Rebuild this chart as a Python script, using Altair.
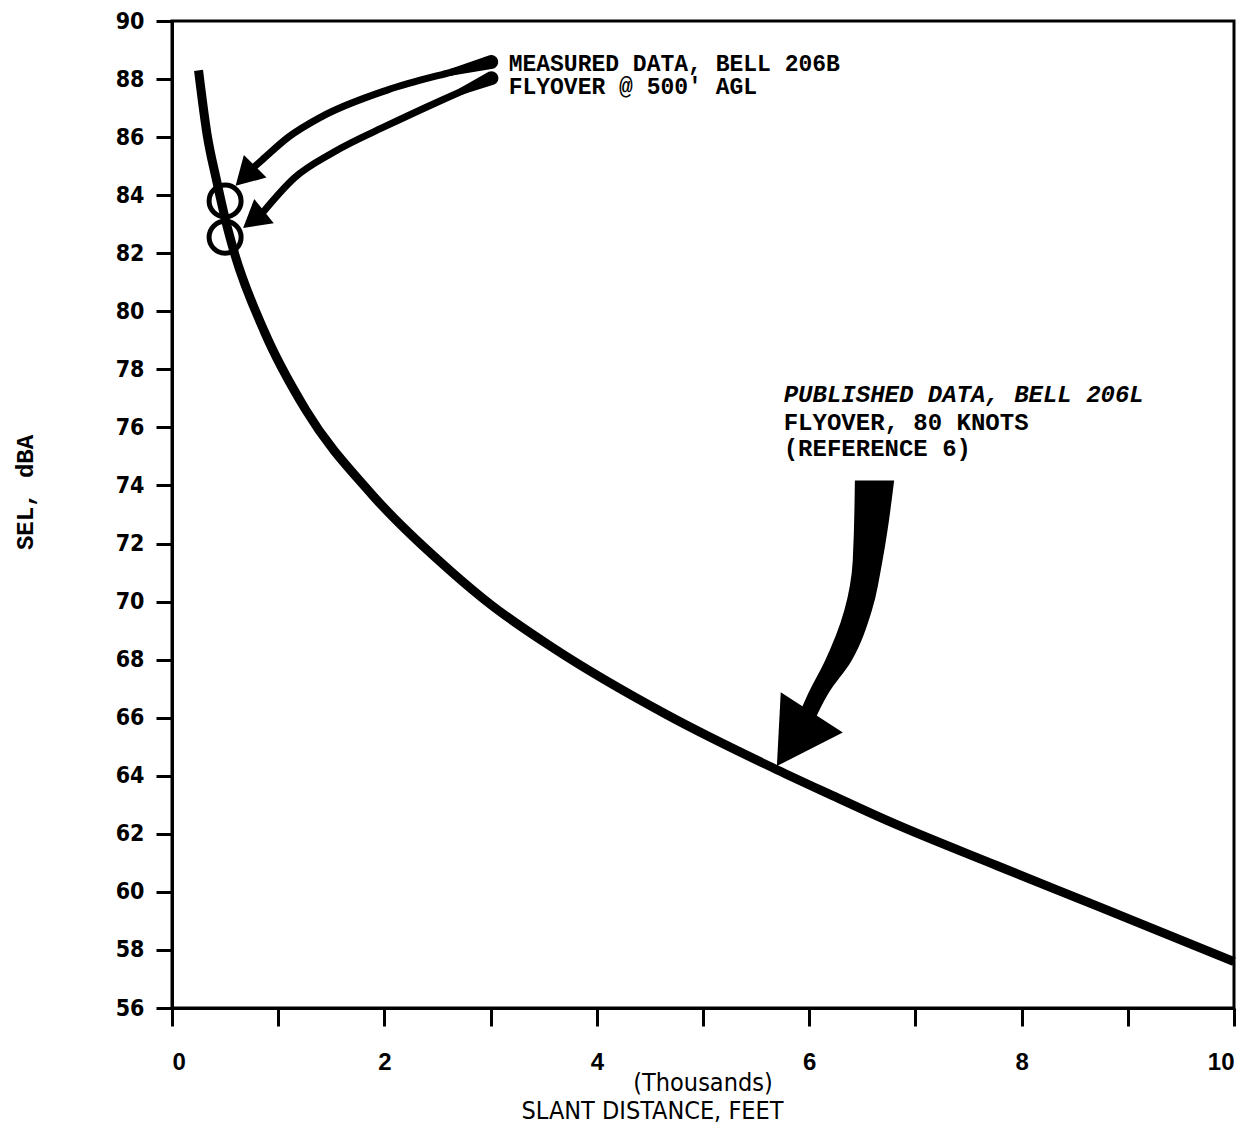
import altair as alt
import pandas as pd

# ---- data ----
curve_x = [0.25, 0.33, 0.42, 0.50, 0.58, 0.87, 1.26, 1.88, 2.64, 3.00, 3.59, 4.66, 5.70, 6.17, 6.77, 7.77, 8.72, 10.0]
curve_y = [88.3, 86.1, 84.5, 83.2, 82.1, 79.3, 76.6, 73.7, 71.0, 69.9, 68.4, 66.1, 64.2, 63.4, 62.4, 60.9, 59.5, 57.6]

measured_x = [0.5, 0.5]
measured_y = [83.8, 82.55]

x_ticks = list(range(0, 11))
y_ticks = list(range(56, 91, 2))

# annotation arrows 1 & 2 (thin curved shafts)
shaft_id = ["a1"] * 7 + ["a2"] * 6
shaft_x = [3.006, 2.632, 2.026, 1.402, 1.096, 0.847, 0.782,
           3.008, 2.544, 2.032, 1.521, 1.150, 0.865]
shaft_y = [88.59, 88.24, 87.62, 86.69, 86.00, 85.21, 85.00,
           88.03, 87.28, 86.41, 85.48, 84.59, 83.45]

# thick start ("blob") of arrows 1 & 2
blob_id = ["a1", "a1", "a2", "a2"]
blob_x = [3.006, 2.632, 3.008, 2.73]
blob_y = [88.59, 88.24, 88.03, 87.59]
blob_w = [14, 7, 14, 7]

# annotation arrow 3 (tapered shaft: left / right edges)
a3_y = [74.17, 71.41, 69.69, 67.97, 66.83, 65.9]
a3_left = [6.43, 6.41, 6.33, 6.15, 5.99, 5.88]
a3_right = [6.80, 6.69, 6.59, 6.40, 6.18, 6.05]

head_x = [0.691, 0.768, 5.86]
head_y = [84.66, 83.16, 65.26]
head_angle = [225, 231, 213]
head_size = [1024, 961, 5476]

meas_lines = ["MEASURED DATA, BELL 206B", "FLYOVER @ 500' AGL"]
meas_x = [3.17, 3.17]
meas_y = [88.28, 87.47]

pub_lines = ["PUBLISHED DATA, BELL 206L", "FLYOVER, 80 KNOTS", "(REFERENCE 6)"]
pub_x = [5.76, 5.76, 5.76]
pub_y = [76.86, 75.90, 75.0]

unit_text = ["(Thousands)"]
unit_x = [5.0]
unit_y = [53.41]

# ---- tables ----
curve_df = pd.DataFrame({"x": curve_x, "y": curve_y})
meas_df = pd.DataFrame({"x": measured_x, "y": measured_y})
shaft_df = pd.DataFrame({"id": shaft_id, "x": shaft_x, "y": shaft_y})
blob_df = pd.DataFrame({"id": blob_id, "x": blob_x, "y": blob_y, "w": blob_w,
                        "seq": list(range(len(blob_x)))})
a3_df = pd.DataFrame({"y": a3_y, "xl": a3_left, "xr": a3_right})
head_df = pd.DataFrame({"x": head_x, "y": head_y, "angle": head_angle, "size": head_size})
meas_txt = pd.DataFrame({"x": meas_x, "y": meas_y, "t": meas_lines})
pub_df = pd.DataFrame({"x": pub_x, "y": pub_y, "t": pub_lines, "i": [0, 1, 2]})
unit_df = pd.DataFrame({"x": unit_x, "y": unit_y, "t": unit_text})

xscale = alt.Scale(domain=[0, 10], nice=False, zero=False)
yscale = alt.Scale(domain=[56, 90], nice=False, zero=False)

X = alt.X("x:Q", scale=xscale, axis=alt.Axis(
    values=x_ticks, format="d",
    labelExpr="datum.value % 2 == 0 ? datum.label : ''",
    tickSize=18, labelPadding=24, labelFontSize=24, labelFont="Liberation Sans",
    labelFontWeight="bold",
    title="SLANT DISTANCE, FEET", titleFont="Liberation Sans Narrow, DejaVu Sans Condensed, Liberation Sans",
    titleFontSize=25, titleFontWeight="normal",
    titleX=480, titleY=102, titleAlign="center", titleBaseline="middle", titleAnchor="start",
))
Y = alt.Y("y:Q", scale=yscale, axis=alt.Axis(
    values=y_ticks, tickSize=16, labelPadding=12, labelFontSize=23,
    labelFont="Liberation Sans Narrow, DejaVu Sans Condensed, Liberation Sans", labelFontWeight="bold",
    title="SEL, dBA", titleFont="Liberation Mono", titleFontSize=24, titleFontWeight="bold",
    titleX=-147, titleY=471, titleAngle=270, titleAlign="center", titleBaseline="middle",
))

curve = alt.Chart(curve_df).mark_line(color="black", strokeWidth=9, interpolate="monotone").encode(
    x=X, y=Y)

circles = alt.Chart(meas_df).mark_point(shape="circle", filled=False, color="black",
                                        size=1024, strokeWidth=5, opacity=1).encode(
    x="x:Q", y="y:Q")

shafts = alt.Chart(shaft_df).mark_line(color="black", strokeWidth=7, interpolate="monotone",
                                       strokeCap="round").encode(
    x="x:Q", y="y:Q", detail="id:N")

blobs = alt.Chart(blob_df).mark_trail(color="black").encode(
    x="x:Q", y="y:Q", detail="id:N", order="seq:Q",
    size=alt.Size("w:Q", scale=None, legend=None))

shaft3 = alt.Chart(a3_df).mark_area(orient="horizontal", color="black", opacity=1,
                                    interpolate="monotone").encode(
    y="y:Q", x="xl:Q", x2="xr:Q")

heads = alt.Chart(head_df).mark_point(shape="triangle-up", filled=True, color="black", opacity=1).encode(
    x="x:Q", y="y:Q",
    angle=alt.Angle("angle:Q", scale=None),
    size=alt.Size("size:Q", scale=None, legend=None))

mtext = alt.Chart(meas_txt).mark_text(align="left", baseline="alphabetic", font="Liberation Mono",
                                      fontSize=23, fontWeight="bold", color="black").encode(
    x="x:Q", y="y:Q", text="t:N")

ptext_it = alt.Chart(pub_df[pub_df.i == 0]).mark_text(align="left", baseline="alphabetic",
                                                       font="Liberation Mono", fontSize=24,
                                                       fontWeight="bold", fontStyle="italic",
                                                       color="black").encode(
    x="x:Q", y="y:Q", text="t:N")
ptext = alt.Chart(pub_df[pub_df.i > 0]).mark_text(align="left", baseline="alphabetic",
                                                   font="Liberation Mono", fontSize=24,
                                                   fontWeight="bold", color="black").encode(
    x="x:Q", y="y:Q", text="t:N")

utext = alt.Chart(unit_df).mark_text(align="center", baseline="middle",
                                     font="Liberation Sans Narrow, DejaVu Sans Condensed, Liberation Sans",
                                     fontSize=25, color="black").encode(
    x="x:Q", y="y:Q", text="t:N")

chart = alt.layer(curve, circles, shafts, blobs, shaft3, heads, mtext, ptext_it, ptext, utext).properties(
    width=1062, height=987,
    autosize=alt.AutoSizeParams(type="none"),
    padding={"left": 164, "top": 13, "right": 13, "bottom": 125},
    background="white",
).configure_view(stroke="black", strokeWidth=3).configure_axis(
    grid=False, domainColor="black", domainWidth=3, tickColor="black", tickWidth=3,
    labelColor="black", titleColor="black",
)

chart.save("out.html", embed_options={"renderer": "svg", "actions": False})
